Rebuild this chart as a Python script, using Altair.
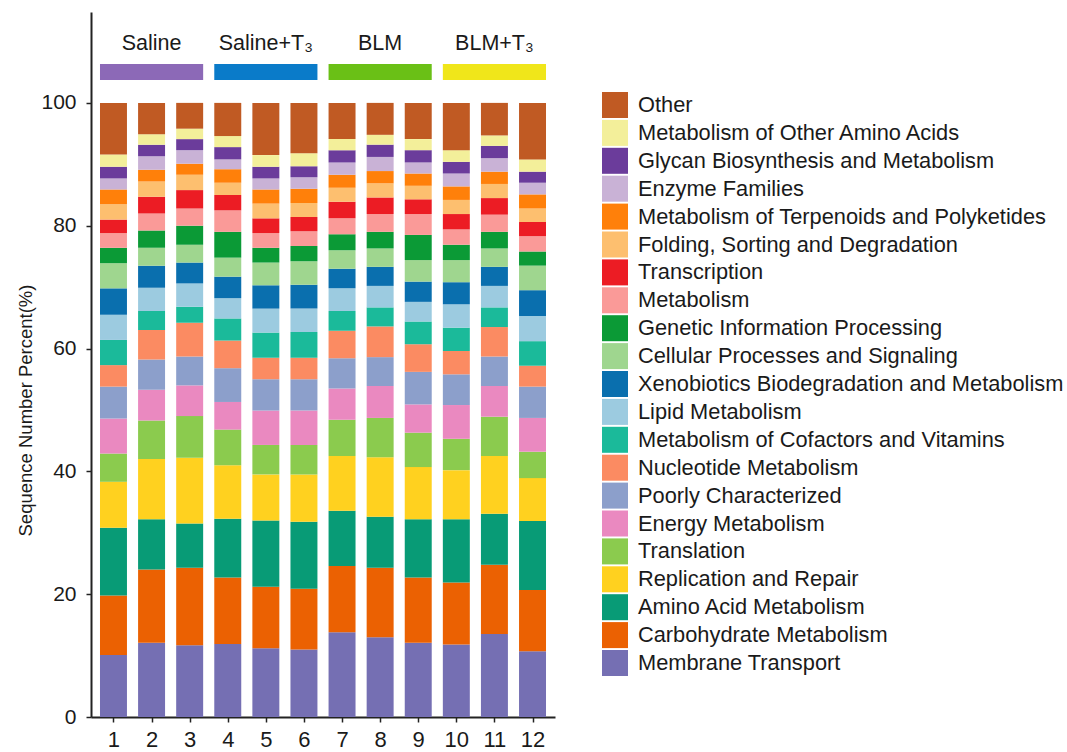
import altair as alt
import pandas as pd

# Samples 1-12 (three per treatment group)
samples = list(range(1, 13))

# KEGG categories, listed from the bottom of each stack to the top
categories = [
    "Membrane Transport",
    "Carbohydrate Metabolism",
    "Amino Acid Metabolism",
    "Replication and Repair",
    "Translation",
    "Energy Metabolism",
    "Poorly Characterized",
    "Nucleotide Metabolism",
    "Metabolism of Cofactors and Vitamins",
    "Lipid Metabolism",
    "Xenobiotics Biodegradation and Metabolism",
    "Cellular Processes and Signaling",
    "Genetic Information Processing",
    "Metabolism",
    "Transcription",
    "Folding, Sorting and Degradation",
    "Metabolism of Terpenoids and Polyketides",
    "Enzyme Families",
    "Glycan Biosynthesis and Metabolism",
    "Metabolism of Other Amino Acids",
    "Other",
]

category_colors = [
    "#756FB3", "#EB6102", "#089B76", "#FFD11F", "#8BCB4E", "#EA89C0",
    "#8C9FCB", "#FB8B62", "#1BBA9A", "#9CCBE0", "#0A6FAE", "#9FD68F",
    "#0B9A36", "#FA9A98", "#EC1C24", "#FDBF6F", "#FF800A", "#C9B2D6",
    "#6B3C9B", "#F3EF9A", "#C05A23",
]

# Sequence number percent per category, samples 1..12
membrane = [10.1, 12.1, 11.7, 11.9, 11.2, 11.0, 13.8, 13.0, 12.1, 11.8, 13.5, 10.7]
carbohydrate = [9.7, 11.9, 12.6, 10.8, 10.0, 9.9, 10.8, 11.3, 10.6, 10.1, 11.3, 10.0]
amino_acid = [11.0, 8.2, 7.2, 9.6, 10.8, 10.9, 9.0, 8.3, 9.5, 10.3, 8.3, 11.2]
replication = [7.5, 9.8, 10.7, 8.7, 7.5, 7.7, 8.9, 9.7, 8.5, 8.0, 9.4, 7.0]
translation = [4.6, 6.3, 6.8, 5.8, 4.8, 4.8, 5.9, 6.4, 5.6, 5.1, 6.4, 4.3]
energy = [5.7, 5.0, 5.0, 4.5, 5.6, 5.6, 5.1, 5.2, 4.6, 5.5, 5.0, 5.5]
poorly = [5.2, 4.9, 4.7, 5.5, 5.1, 5.1, 4.9, 4.7, 5.3, 5.0, 4.8, 5.1]
nucleotide = [3.5, 4.8, 5.5, 4.5, 3.5, 3.5, 4.5, 5.0, 4.5, 3.8, 4.8, 3.4]
cofactors = [4.1, 3.1, 2.6, 3.6, 4.1, 4.2, 3.2, 3.1, 3.7, 3.8, 3.2, 4.0]
lipid = [4.1, 3.8, 3.8, 3.3, 3.9, 3.8, 3.7, 3.5, 3.2, 3.8, 3.5, 4.1]
xenobiotics = [4.3, 3.6, 3.4, 3.5, 3.8, 3.9, 3.2, 3.1, 3.3, 3.6, 3.1, 4.2]
cellular = [4.1, 2.9, 2.9, 3.1, 3.7, 3.8, 3.0, 3.0, 3.5, 3.6, 3.0, 4.0]
genetic = [2.5, 2.8, 3.1, 4.2, 2.4, 2.5, 2.6, 2.7, 4.1, 2.5, 2.7, 2.3]
metabolism = [2.4, 2.8, 2.8, 3.5, 2.4, 2.4, 2.6, 2.9, 3.4, 2.5, 2.8, 2.5]
transcription = [2.2, 2.7, 3.0, 2.5, 2.4, 2.3, 2.7, 2.7, 2.4, 2.5, 2.7, 2.3]
folding = [2.5, 2.5, 2.5, 2.0, 2.4, 2.3, 2.3, 2.3, 2.2, 2.3, 2.3, 2.2]
terpenoids = [2.4, 1.9, 1.8, 2.2, 2.3, 2.3, 2.1, 2.0, 2.0, 2.2, 2.0, 2.3]
enzyme = [1.8, 2.2, 2.2, 1.6, 1.8, 1.9, 2.0, 2.3, 1.8, 2.1, 2.2, 1.9]
glycan = [1.9, 1.9, 1.8, 2.0, 1.9, 1.8, 2.0, 2.0, 2.0, 1.9, 2.0, 1.8]
other_amino = [2.0, 1.7, 1.7, 1.8, 1.9, 2.1, 1.8, 1.6, 1.8, 1.9, 1.7, 2.0]
other = [8.4, 5.1, 4.2, 5.4, 8.5, 8.2, 5.9, 5.2, 5.9, 7.7, 5.3, 9.2]

series = [
    membrane, carbohydrate, amino_acid, replication, translation, energy,
    poorly, nucleotide, cofactors, lipid, xenobiotics, cellular, genetic,
    metabolism, transcription, folding, terpenoids, enzyme, glycan,
    other_amino, other,
]

# Treatment groups shown above the bars
groups = ["Saline", "Saline+T\u2083", "BLM", "BLM+T\u2083"]
group_first = [1, 4, 7, 10]
group_last = [3, 6, 9, 12]
group_colors = ["#8C69B7", "#0A7BC9", "#6AC016", "#F0E61A"]

FONT = "Liberation Sans"
INK = "#1a1a1a"
HALF = 0.354  # half bar width, in sample units

# Stacked segments: start/end of each category within its sample
rows = []
for j, s in enumerate(samples):
    base = 0.0
    for k, cat in enumerate(categories):
        v = series[k][j]
        rows.append({"sample": s, "category": cat, "value": v,
                     "start": base, "end": base + v})
        base += v
df = pd.DataFrame(rows)

gdf = pd.DataFrame({"group": groups, "first": group_first,
                    "last": group_last, "fill": group_colors})

x_scale = alt.Scale(domain=[0.41, 12.59], nice=False, zero=False)
y_scale = alt.Scale(domain=[0, 114.8], nice=False)

legend_order = categories[::-1]
legend_colors = category_colors[::-1]

bars = alt.Chart(df).transform_calculate(
    x0=f"datum.sample - {HALF}", x1=f"datum.sample + {HALF}"
).mark_rect().encode(
    x=alt.X("x0:Q", scale=x_scale,
            axis=alt.Axis(values=samples, title=None, format="d",
                          labelFontSize=22, labelPadding=7, tickSize=5)),
    x2="x1:Q",
    y=alt.Y("start:Q", scale=y_scale,
            axis=alt.Axis(values=[0, 20, 40, 60, 80, 100],
                          title="Sequence Number Percent(%)",
                          titleFontSize=18.5, titleFontWeight="normal",
                          titleX=-66, titleY=398, titleAngle=270,
                          titleAlign="center", titleBaseline="middle",
                          labelFontSize=21, labelPadding=10, tickSize=5)),
    y2="end:Q",
    color=alt.Color("category:N",
                    scale=alt.Scale(domain=legend_order, range=legend_colors),
                    legend=alt.Legend(title=None, orient="none",
                                      legendX=511, legendY=80,
                                      symbolType="square", symbolSize=676,
                                      symbolStrokeWidth=0, labelFontSize=21.8,
                                      labelOffset=10, rowPadding=1.9,
                                      labelLimit=600, padding=0,
                                      labelColor=INK, labelFont=FONT)),
)

header_bars = alt.Chart(gdf).transform_calculate(
    gx0=f"datum.first - {HALF}", gx1=f"datum.last + {HALF}"
).mark_rect().encode(
    x=alt.X("gx0:Q", scale=x_scale),
    x2="gx1:Q",
    y=alt.value(52),
    y2=alt.value(68),
    fill=alt.Fill("fill:N", scale=None),
)

header_text = alt.Chart(gdf).transform_calculate(
    mid="(datum.first + datum.last) / 2"
).mark_text(fontSize=21.5, font=FONT, color=INK, baseline="alphabetic",
            align="center").encode(
    x=alt.X("mid:Q", scale=x_scale),
    y=alt.value(38),
    text="group:N",
)

chart = alt.layer(bars, header_bars, header_text).properties(
    width=464,
    height=705,
    autosize=alt.AutoSizeParams(type="none"),
    padding={"left": 91, "top": 12, "right": 512, "bottom": 35},
).configure_view(
    stroke=None
).configure_axis(
    domainColor="#222222", domainWidth=2, tickColor="#222222", tickWidth=1.5,
    labelColor=INK, titleColor=INK, labelFont=FONT, titleFont=FONT,
    grid=False,
)

chart.save("out.html", embed_options={"renderer": "svg", "actions": False})
